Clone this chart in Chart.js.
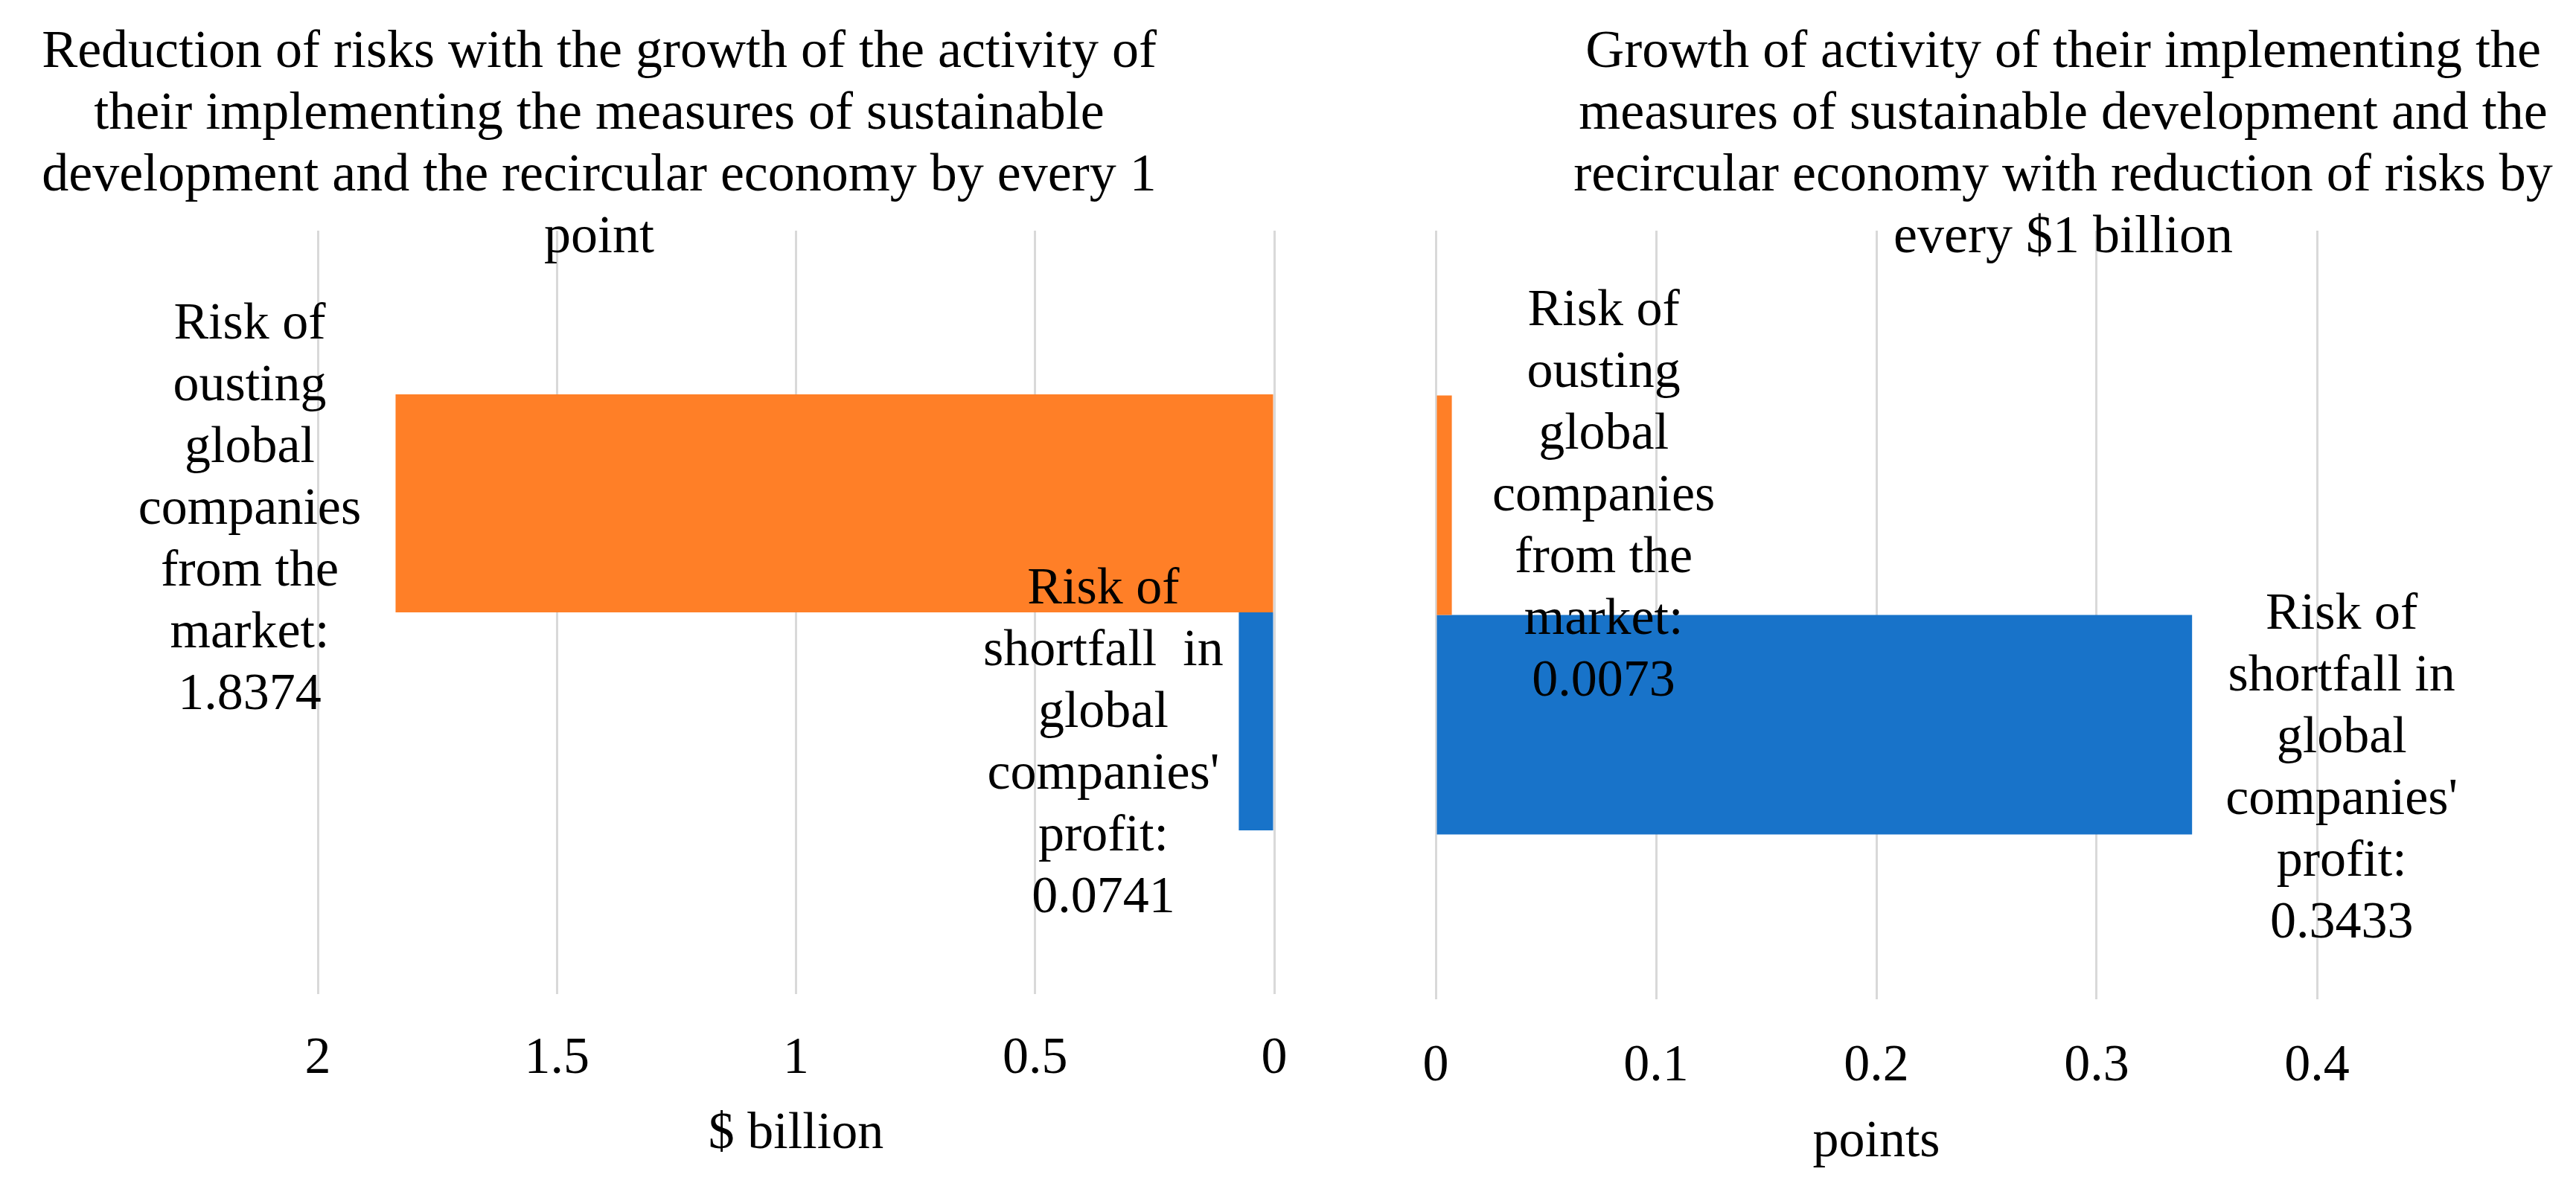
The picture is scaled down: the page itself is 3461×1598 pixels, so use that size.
<!DOCTYPE html>
<html><head><meta charset="utf-8">
<script src="https://cdn.jsdelivr.net/npm/chart.js@4.4.1/dist/chart.umd.min.js"></script>
<style>
html,body{margin:0;padding:0;background:#fff;width:3461px;height:1598px;overflow:hidden}
#w1{position:absolute;left:0;top:0;width:1820px;height:1598px}
#w2{position:absolute;left:1820px;top:0;width:1641px;height:1598px}
</style></head><body>
<div id="w1"><canvas id="c1"></canvas></div>
<div id="w2"><canvas id="c2"></canvas></div>
<script>
// ---------- data ----------
const categories = ['Risk'];
const seriesNames = ["Risk of ousting global companies from the market", "Risk of shortfall in global companies' profit"];
const leftOusting = [1.8374];
const leftShortfall = [0.0741];
const rightOusting = [0.0073];
const rightShortfall = [0.3433];
const leftTicks = [0, 0.5, 1, 1.5, 2];
const rightTicks = [0, 0.1, 0.2, 0.3, 0.4];
const leftTitle = ['Reduction of risks with the growth of the activity of',
  'their implementing the measures of sustainable',
  'development and the recircular economy by every 1',
  'point'];
const rightTitle = ['Growth of activity of their implementing the',
  'measures of sustainable development and the',
  'recircular economy with reduction of risks by',
  'every $1 billion'];
const leftAxisTitle = '$ billion';
const rightAxisTitle = 'points';
const leftLabelLines = [['Risk of', 'ousting', 'global', 'companies', 'from the', 'market:'],
  ['Risk of', 'shortfall  in', 'global', "companies'", 'profit:']];
const rightLabelLines = [['Risk of', 'ousting', 'global', 'companies', 'from the', 'market:'],
  ['Risk of', 'shortfall in', 'global', "companies'", 'profit:']];

// ---------- style ----------
const FAMILY = '"Liberation Serif", "Times New Roman", serif';
const ORANGE = '#FF7F27';
const BLUE = '#1873C9';
const GRID = '#D9D9D9';
const TXT = 70;
const LH = 83;

const annot = {
  id: 'annot',
  afterDatasetsDraw(chart, args, o) {
    const ctx = chart.ctx;
    ctx.save();
    ctx.fillStyle = '#000';
    ctx.textAlign = 'center';
    ctx.textBaseline = 'alphabetic';
    ctx.font = o.titleSize + 'px ' + FAMILY;
    o.title.forEach((t, i) => ctx.fillText(t, o.titleX, o.titleY + i * LH));
    ctx.font = TXT + 'px ' + FAMILY;
    chart.data.datasets.forEach((ds, di) => {
      const meta = chart.getDatasetMeta(di);
      meta.data.forEach((bar, j) => {
        const lines = o.lines[di].concat([ds.data[j].toFixed(4)]);
        const cx = bar.x + o.dx[di];
        const y0 = bar.y + o.dy[di];
        lines.forEach((t, k) => ctx.fillText(t, cx, y0 + k * LH));
      });
    });
    ctx.restore();
  }
};

function makeChart(id, cfg) {
  return new Chart(document.getElementById(id), {
    type: 'bar',
    data: {
      labels: categories,
      datasets: [
        { label: seriesNames[0], data: cfg.a, backgroundColor: ORANGE, categoryPercentage: 0.571, barPercentage: 1 },
        { label: seriesNames[1], data: cfg.b, backgroundColor: BLUE, categoryPercentage: 0.571, barPercentage: 1 }
      ]
    },
    plugins: [annot],
    options: {
      indexAxis: 'y',
      responsive: true,
      maintainAspectRatio: false,
      animation: false,
      devicePixelRatio: 1,
      layout: { padding: cfg.pad },
      plugins: {
        legend: { display: false },
        tooltip: { enabled: false },
        title: { display: false },
        annot: { title: cfg.title, titleX: cfg.titleX, titleY: 90, titleSize: 72, lines: cfg.lines, dx: cfg.dx, dy: cfg.dy }
      },
      scales: {
        y: { display: false },
        x: {
          min: cfg.ticks[0], max: cfg.ticks[cfg.ticks.length - 1], reverse: cfg.reverse,
          afterBuildTicks: s => { s.ticks = cfg.ticks.map(v => ({ value: v })); },
          afterFit: s => { s.height = cfg.axisH; },
          grid: { color: GRID, lineWidth: 3, drawTicks: false },
          border: { display: false },
          ticks: { padding: cfg.tickPad, color: '#000', font: { family: FAMILY, size: TXT },
            callback: v => String(v) },
          title: { display: true, text: cfg.axisTitle, color: '#000', font: { family: FAMILY, size: TXT }, padding: { top: 0, bottom: cfg.titlePad } }
        }
      }
    }
  });
}

makeChart('c1', {
  a: leftOusting, b: leftShortfall, ticks: leftTicks, reverse: true,
  pad: { left: 427, right: 108, top: 310, bottom: 0 }, axisH: 262, tickPad: 46, titlePad: 31,
  axisTitle: leftAxisTitle, title: leftTitle, titleX: 805, lines: leftLabelLines,
  dx: [-196, -182], dy: [-222, -158]
});
makeChart('c2', {
  a: rightOusting, b: rightShortfall, ticks: rightTicks, reverse: false,
  pad: { left: 109, right: 348, top: 310, bottom: 0 }, axisH: 255, tickPad: 49, titlePad: 20,
  axisTitle: rightAxisTitle, title: rightTitle, titleX: 952, lines: rightLabelLines,
  dx: [204, 201], dy: [-242, -129]
});
</script>
</body></html>
